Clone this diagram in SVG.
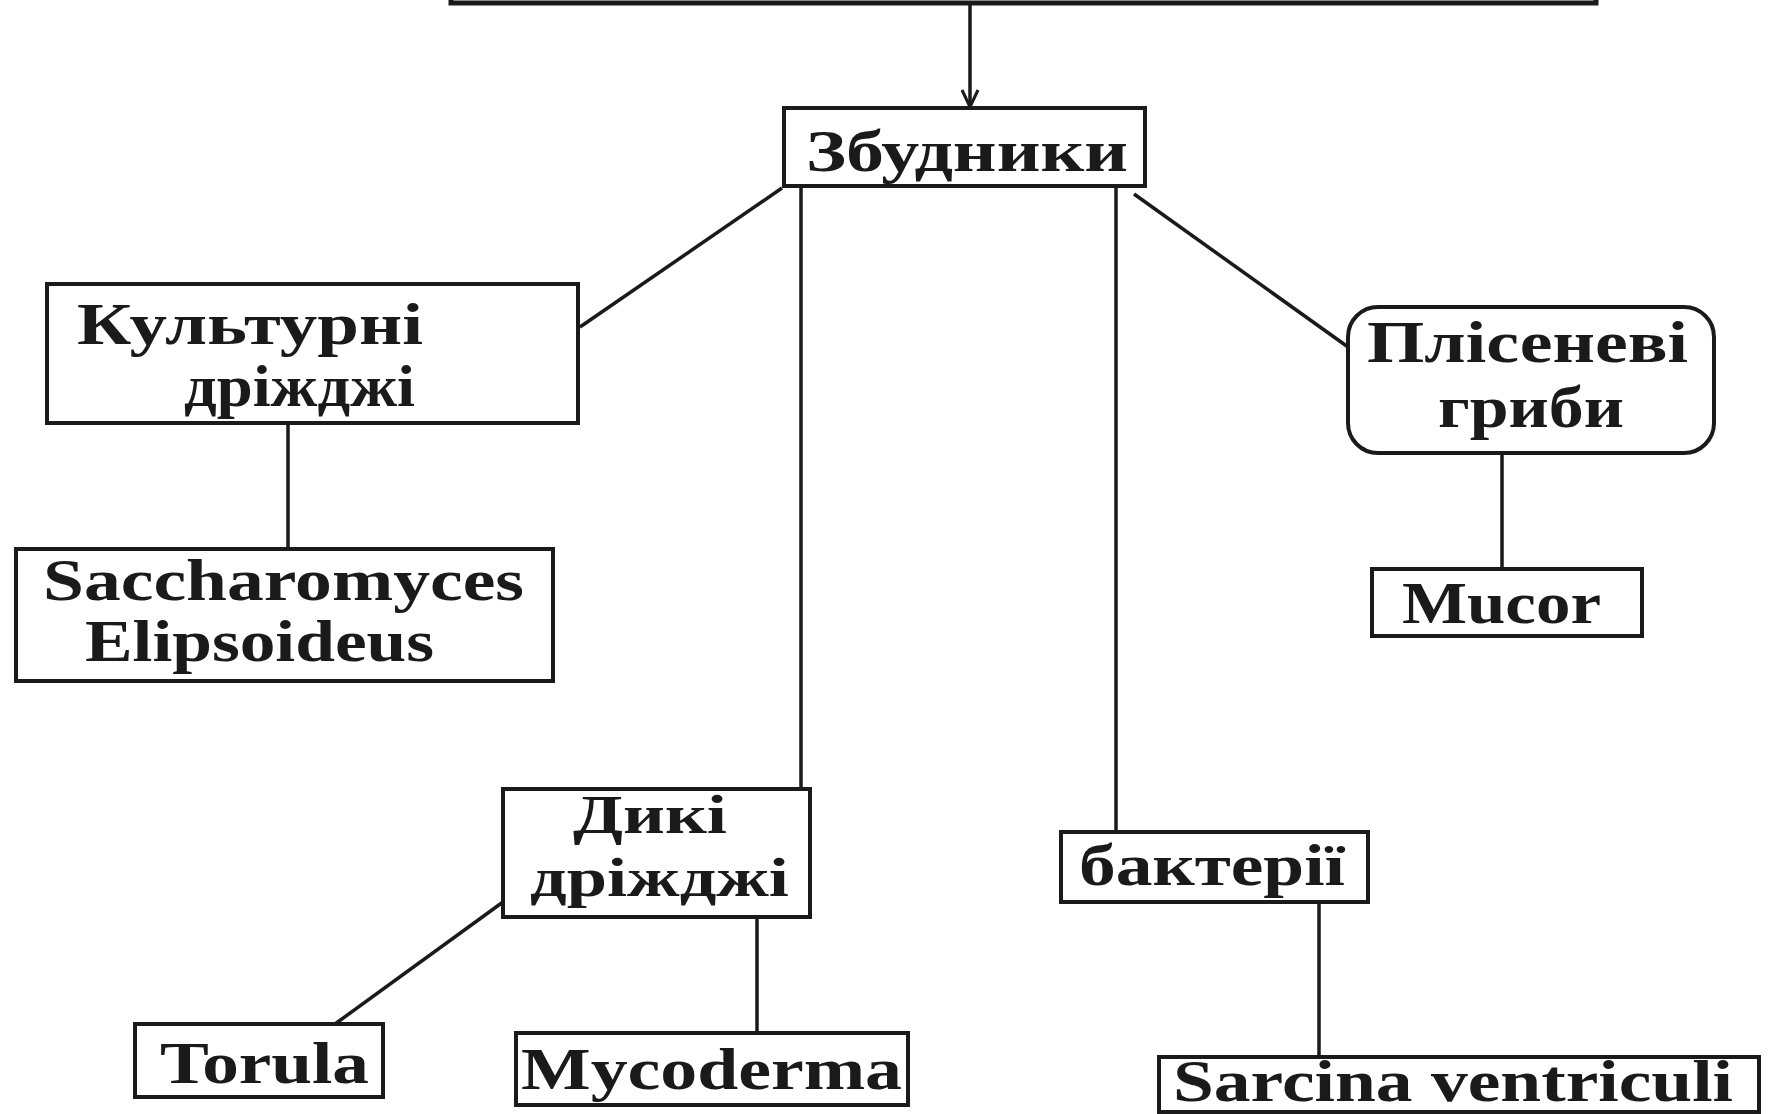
<svg xmlns="http://www.w3.org/2000/svg" width="1768" height="1114" viewBox="0 0 1768 1114">
<style>
.box{fill:#fff;stroke:#1a1a1a;stroke-width:4}
.ln{fill:none;stroke:#1a1a1a;stroke-width:3.5}
.t{font-family:"Liberation Serif","DejaVu Serif",serif;font-weight:bold;font-size:60px;fill:#1a1a1a}
.s{font-size:55px}
</style>
<defs>
<marker id="ah" viewBox="0 0 20 20" refX="19" refY="10" markerWidth="20" markerHeight="20" markerUnits="userSpaceOnUse" orient="auto">
<path d="M2,2 L19,10 L2,18" fill="none" stroke="#1a1a1a" stroke-width="3"/>
</marker>
</defs>
<rect width="1768" height="1114" fill="#fff"/>
<g id="connectors">
<line class="ln" x1="970" y1="4" x2="970" y2="107" marker-end="url(#ah)"/>
<line class="ln" x1="782" y1="188" x2="580" y2="327"/>
<line class="ln" x1="801" y1="186" x2="801" y2="789"/>
<line class="ln" x1="1116" y1="186" x2="1116" y2="832"/>
<line class="ln" x1="1134" y1="194" x2="1348" y2="347"/>
<line class="ln" x1="288" y1="423" x2="288" y2="549"/>
<line class="ln" x1="1502" y1="453" x2="1502" y2="569"/>
<line class="ln" x1="503" y1="902" x2="335" y2="1024"/>
<line class="ln" x1="757" y1="917" x2="757" y2="1033"/>
<line class="ln" x1="1319" y1="902" x2="1319" y2="1057"/>
</g>
<g id="top">
<rect x="451" y="-60" width="1145" height="63" fill="#fff" stroke="#1a1a1a" stroke-width="5"/>
</g>
<g id="zbudnyky">
<rect class="box" x="784" y="108" width="361" height="78"/>
<text class="t" x="806" y="171" textLength="322" lengthAdjust="spacingAndGlyphs">Збудники</text>
</g>
<g id="kulturni">
<rect class="box" x="47" y="284" width="531" height="139"/>
<text class="t" x="77" y="344" textLength="346" lengthAdjust="spacingAndGlyphs">Культурні</text>
<text class="t" x="184" y="406" textLength="231" lengthAdjust="spacingAndGlyphs">дріжджі</text>
</g>
<g id="saccharomyces">
<rect class="box" x="16" y="549" width="537" height="132"/>
<text class="t" x="43" y="600" textLength="481" lengthAdjust="spacingAndGlyphs">Saccharomyces</text>
<text class="t" x="85" y="661" textLength="349" lengthAdjust="spacingAndGlyphs">Elipsoideus</text>
</g>
<g id="plisenevi">
<rect class="box" x="1348" y="307" width="366" height="146" rx="30" ry="30"/>
<text class="t" x="1367" y="362" textLength="321" lengthAdjust="spacingAndGlyphs">Плісеневі</text>
<text class="t" x="1438" y="427" textLength="186" lengthAdjust="spacingAndGlyphs">гриби</text>
</g>
<g id="mucor">
<rect class="box" x="1372" y="569" width="270" height="67"/>
<text class="t" x="1402" y="623" textLength="199" lengthAdjust="spacingAndGlyphs">Mucor</text>
</g>
<g id="dyki">
<rect class="box" x="503" y="789" width="307" height="128"/>
<text class="t s" x="573" y="833" textLength="154" lengthAdjust="spacingAndGlyphs">Дикі</text>
<text class="t s" x="530" y="896" textLength="259" lengthAdjust="spacingAndGlyphs">дріжджі</text>
</g>
<g id="bakterii">
<rect class="box" x="1061" y="832" width="307" height="70"/>
<text class="t" x="1079" y="885" textLength="266" lengthAdjust="spacingAndGlyphs">бактерії</text>
</g>
<g id="torula">
<rect class="box" x="135" y="1024" width="248" height="73"/>
<text class="t" x="160" y="1083" textLength="209" lengthAdjust="spacingAndGlyphs">Torula</text>
</g>
<g id="mycoderma">
<rect class="box" x="516" y="1033" width="392" height="72"/>
<text class="t" x="521" y="1089" textLength="381" lengthAdjust="spacingAndGlyphs">Mycoderma</text>
</g>
<g id="sarcina">
<rect class="box" x="1159" y="1057" width="600" height="55"/>
<text class="t" x="1173" y="1101" textLength="560" lengthAdjust="spacingAndGlyphs">Sarcina ventriculi</text>
</g>
</svg>
